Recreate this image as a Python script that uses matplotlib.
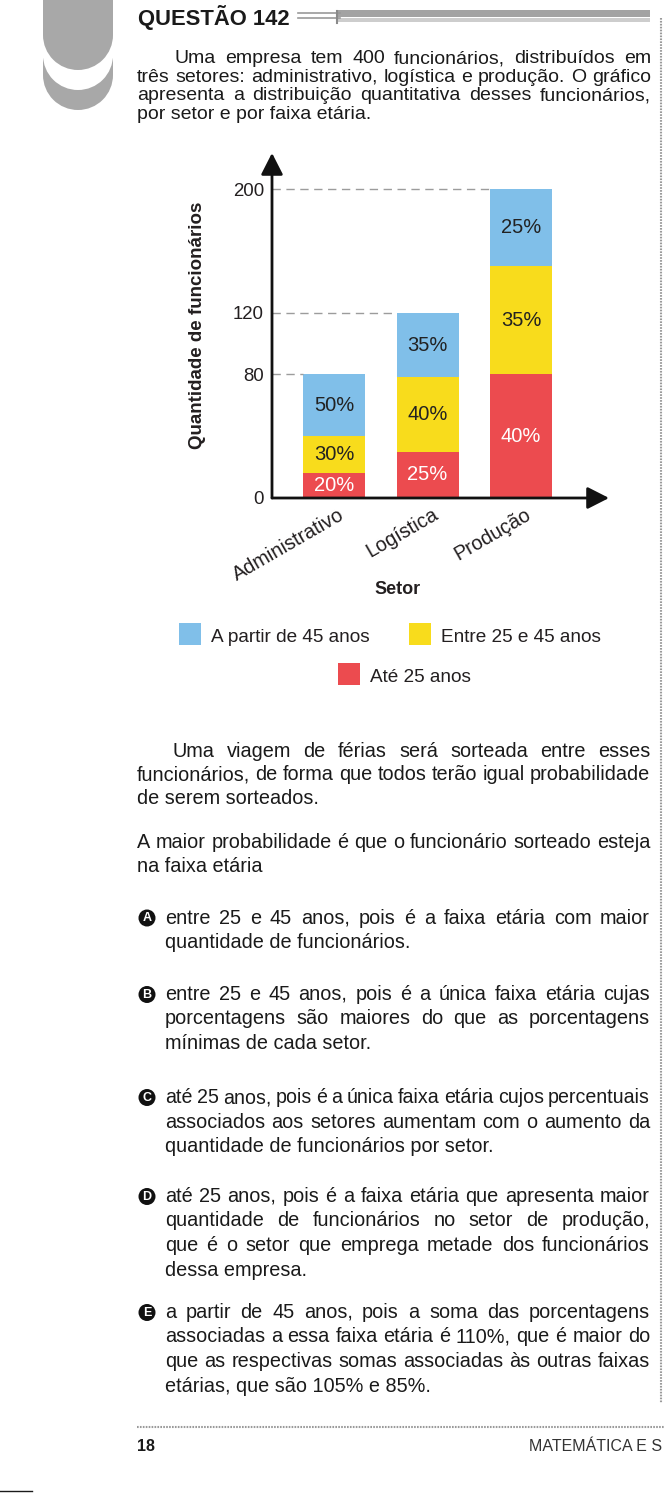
import matplotlib
matplotlib.use('Agg')
import matplotlib.pyplot as plt
import numpy as np
from matplotlib.patches import Rectangle, Wedge, Circle
from matplotlib.transforms import ScaledTranslation

# dados do grafico
setores = ['Administrativo', 'Logística', 'Produção']
totais = [80, 120, 200]
pct_ate25 = [20, 25, 40]
pct_25a45 = [30, 40, 35]
pct_45mais = [50, 35, 25]
yticks = [0, 80, 120, 200]
faixas = ['A partir de 45 anos', 'Entre 25 e 45 anos', 'Até 25 anos']

AZUL = '#80bfe9'
AMARELO = '#f8dc1c'
VERMELHO = '#ec4b4f'
INK = '#1a1a1a'

# textos da questao
par1 = ['Uma empresa tem 400 funcionários, distribuídos em',
        'três setores: administrativo, logística e produção. O gráfico',
        'apresenta a distribuição quantitativa desses funcionários,',
        'por setor e por faixa etária.']
par2 = ['Uma viagem de férias será sorteada entre esses',
        'funcionários, de forma que todos terão igual probabilidade',
        'de serem sorteados.']
par3 = ['A maior probabilidade é que o funcionário sorteado esteja',
        'na faixa etária']
opcoes = [
    ('A', ['entre 25 e 45 anos, pois é a faixa etária com maior',
           'quantidade de funcionários.']),
    ('B', ['entre 25 e 45 anos, pois é a única faixa etária cujas',
           'porcentagens são maiores do que as porcentagens',
           'mínimas de cada setor.']),
    ('C', ['até 25 anos, pois é a única faixa etária cujos percentuais',
           'associados aos setores aumentam com o aumento da',
           'quantidade de funcionários por setor.']),
    ('D', ['até 25 anos, pois é a faixa etária que apresenta maior',
           'quantidade de funcionários no setor de produção,',
           'que é o setor que emprega metade dos funcionários',
           'dessa empresa.']),
    ('E', ['a partir de 45 anos, pois a soma das porcentagens',
           'associadas a essa faixa etária é 110%, que é maior do',
           'que as respectivas somas associadas às outras faixas',
           'etárias, que são 105% e 85%.']),
]
opc_y = [923.5, 1000, 1103, 1202, 1318]

SANS = ['Liberation Sans', 'DejaVu Sans']

fig = plt.figure(figsize=(6.64, 15.01), dpi=100)
page = fig.add_axes([0, 0, 1, 1])
page.set_xlim(0, 664)
page.set_ylim(1501, 0)
page.axis('off')
rend = fig.canvas.get_renderer()


def linha(txt, x0, x1, y, size, justify=True):
    if not justify:
        page.text(x0, y, txt, fontsize=size, family=SANS, va='baseline', color=INK)
        return
    words = txt.split()
    ts = [page.text(0, y, w, fontsize=size, family=SANS, va='baseline', color=INK) for w in words]
    ws = [t.get_window_extent(rend).width for t in ts]
    em = size * 100 / 72
    gap = (x1 - x0 - sum(ws)) / (len(words) - 1)
    if gap < 0.2 * em:
        # linha apertada: reduz um pouco o corpo
        for t in ts:
            t.remove()
        novo = size * (x1 - x0 - 0.22 * em * (len(words) - 1)) / sum(ws)
        return linha(txt, x0, x1, y, novo, True)
    x = x0
    for t, w in zip(ts, ws):
        t.set_x(x)
        x += w + gap


def paragrafo(linhas, x0, x1, y, dy, size, indent=None):
    for i, l in enumerate(linhas):
        xa = indent if (i == 0 and indent) else x0
        linha(l, xa, x1, y + i * dy, size, justify=(i < len(linhas) - 1))


# enfeite cinza do canto
cinza = '#a8a8a8'
page.add_patch(Rectangle((43, 58), 70, 17, color=cinza, lw=0))
page.add_patch(Wedge((78, 75), 35, 0, 180, color=cinza, lw=0))
page.add_patch(Rectangle((43, 0), 70, 55, color='white', lw=0))
page.add_patch(Wedge((78, 55), 35, 0, 180, color='white', lw=0))
page.add_patch(Rectangle((43, 0), 70, 35, color=cinza, lw=0))
page.add_patch(Wedge((78, 35), 35, 0, 180, color=cinza, lw=0))

# cabecalho
page.text(138, 25, 'QUESTÃO 142', fontsize=15.8, family=SANS, weight='bold', va='baseline', color=INK)
page.plot([298, 340], [12.5, 12.5], color='#9a9a9a', lw=1.2)
page.plot([298, 340], [17.5, 17.5], color='#9a9a9a', lw=1.2)
page.add_patch(Rectangle((338, 9.5), 312, 7, color='#a3a3a3', lw=0))
page.add_patch(Rectangle((338, 17.5), 312, 4, color='#cdcdcd', lw=0))
page.plot([337, 337], [11, 23], color='#8a8a8a', lw=1.5)

# bordas pontilhadas
page.plot([661, 661], [18, 1403], color='#9a9a9a', lw=1.5, dashes=(0.8, 0.6))
page.plot([137, 664], [1427, 1427], color='#9a9a9a', lw=1.5, dashes=(0.8, 0.6))
page.plot([0, 32], [1491, 1491], color=INK, lw=1)

paragrafo(par1, 137, 651, 63, 18.7, 14, indent=175)
paragrafo(par2, 137, 650, 757, 23.3, 14.3, indent=173)
paragrafo(par3, 137, 650, 847.5, 24, 14.3)

for (letra, linhas), y in zip(opcoes, opc_y):
    page.add_patch(Circle((147, y - 5.5), 8.5, color='#111111', lw=0))
    page.text(147, y - 5.3, letra, fontsize=9, family=SANS, weight='bold', color='white',
              ha='center', va='center')
    paragrafo(linhas, 165, 650, y, 24.5, 14.3)

page.text(137, 1451, '18', fontsize=11.5, family=SANS, weight='bold', va='baseline', color=INK)
page.text(662, 1451, 'MATEMÁTICA E S', fontsize=11.5, family=SANS, ha='right',
          va='baseline', color='#333333')

# grafico
X0, Y0, X1, Y1 = 272, 498, 609, 153
ax = fig.add_axes([X0 / 664, 1 - Y0 / 1501, (X1 - X0) / 664, (Y0 - Y1) / 1501])
ax.set_xlim(-0.663, 2.941)
ax.set_ylim(0, (Y0 - Y1) / 1.545)
ax.patch.set_visible(False)
for s in ax.spines.values():
    s.set_visible(False)

x = np.arange(len(setores))
w = 0.663
h1 = np.array(totais) * np.array(pct_ate25) / 100
h2 = np.array(totais) * np.array(pct_25a45) / 100
h3 = np.array(totais) * np.array(pct_45mais) / 100
ax.bar(x, h1, w, color=VERMELHO, lw=0)
ax.bar(x, h2, w, bottom=h1, color=AMARELO, lw=0)
ax.bar(x, h3, w, bottom=h1 + h2, color=AZUL, lw=0)

for i in range(len(setores)):
    ax.hlines(totais[i], -0.663, x[i] - w / 2, color='#9c9c9c', lw=1, linestyles=(0, (6, 4)))
    ax.text(x[i], h1[i] / 2, f'{pct_ate25[i]}%', ha='center', va='center',
            fontsize=14.5, family=SANS, color='white')
    ax.text(x[i], h1[i] + h2[i] / 2, f'{pct_25a45[i]}%', ha='center', va='center',
            fontsize=14.5, family=SANS, color='#222222')
    ax.text(x[i], h1[i] + h2[i] + h3[i] / 2, f'{pct_45mais[i]}%', ha='center', va='center',
            fontsize=14.5, family=SANS, color='#222222')

for tip in [(0, 1), (1, 0)]:
    ax.annotate('', xy=tip, xytext=(0, 0), xycoords='axes fraction',
                arrowprops=dict(arrowstyle='-|>,head_length=0.55,head_width=0.28',
                                lw=2, color='#111111', mutation_scale=24,
                                shrinkA=0, shrinkB=0))

ax.set_yticks(yticks)
ax.set_yticklabels([str(v) for v in yticks], fontsize=13.4, family=SANS, color='#231f20')
ax.set_xticks(x)
ax.set_xticklabels(setores, rotation=30, ha='right', va='top', rotation_mode='anchor',
                   fontsize=14.3, family=SANS, color='#231f20')
ax.tick_params(axis='y', length=0, pad=5.8)
ax.tick_params(axis='x', length=0, pad=5)
for lab in ax.get_xticklabels():
    lab.set_transform(lab.get_transform() + ScaledTranslation(3 / 72, 0, fig.dpi_scale_trans))

page.text(197, 325, 'Quantidade de funcionários', rotation=90, ha='center', va='center',
          fontsize=13.5, family=SANS, weight='bold', color='#231f20')
page.text(398, 589, 'Setor', ha='center', va='center', fontsize=13, family=SANS,
          weight='bold', color='#231f20')

# legenda
leg = [(179, 623, AZUL, faixas[0]), (409, 623, AMARELO, faixas[1]), (338, 663, VERMELHO, faixas[2])]
for lx, ly, c, nome in leg:
    page.add_patch(Rectangle((lx, ly), 22, 22, color=c, lw=0))
    page.text(lx + 32, ly + 19, nome, fontsize=13.7, family=SANS, va='baseline', color='#231f20')

fig.savefig('out.png', dpi=100)
